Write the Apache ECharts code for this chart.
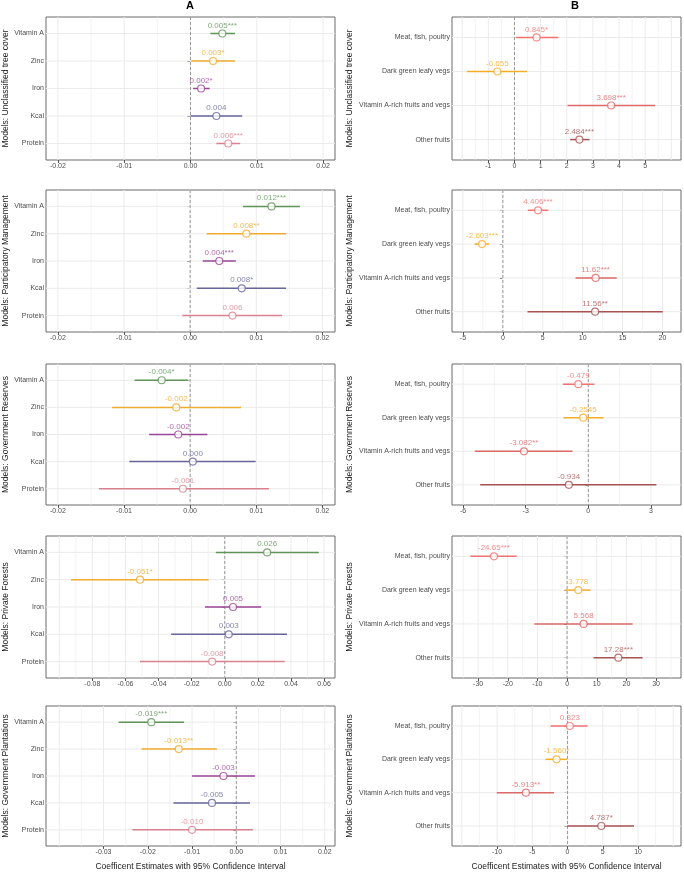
<!DOCTYPE html>
<html lang="en">
<head>
    <meta charset="UTF-8">
    <title>Coefficient plots</title>
    <script src="https://cdn.jsdelivr.net/npm/echarts@6/dist/echarts.min.js"></script>
</head>
<style>
    html, body { margin:0; padding:0; background:#fff; }
    #main { width:684px; height:872px; }
</style>
<body>
<div id="main"></div>
</body>
<script>
    // row labels / categories
    var models = ['Unclassified tree cover', 'Participatory Management', 'Government Reserves', 'Private Forests', 'Government Plantations'];
    var nutrients = ['Vitamin A', 'Zinc', 'Iron', 'Kcal', 'Protein'];
    var foods = ['Meat, fish, poultry', 'Dark green leafy vegs', 'Vitamin A-rich fruits and vegs', 'Other fruits'];

    // panel A: nutrient models (one row per model)
    var aEst = [
        [0.0048, 0.0034, 0.0016, 0.0039, 0.0057],
        [0.0123, 0.0085, 0.0044, 0.0078, 0.0064],
        [-0.0043, -0.0021, -0.0018, 0.0004, -0.0011],
        [0.0256, -0.0512, 0.0050, 0.0024, -0.0076],
        [-0.0192, -0.0130, -0.0029, -0.0055, -0.0100]
    ];
    var aLo = [
        [0.0030, 0.0001, 0.0004, 0.0000, 0.0039],
        [0.0080, 0.0025, 0.0019, 0.0010, -0.0012],
        [-0.0084, -0.0118, -0.0062, -0.0092, -0.0138],
        [-0.0054, -0.0930, -0.0120, -0.0324, -0.0512],
        [-0.0266, -0.0214, -0.0100, -0.0142, -0.0235]
    ];
    var aHi = [
        [0.0067, 0.0067, 0.0029, 0.0078, 0.0075],
        [0.0166, 0.0145, 0.0069, 0.0145, 0.0139],
        [-0.0003, 0.0077, 0.0026, 0.0099, 0.0119],
        [0.0568, -0.0098, 0.0220, 0.0376, 0.0362],
        [-0.0118, -0.0044, 0.0042, 0.0031, 0.0038]
    ];
    var aLab = [
        ['0.005***', '0.003*', '0.002*', '0.004', '0.006***'],
        ['0.012***', '0.008**', '0.004***', '0.008*', '0.006'],
        ['-0.004*', '-0.002', '-0.002', '0.000', '-0.001'],
        ['0.026', '-0.051*', '0.005', '0.003', '-0.008'],
        ['-0.019***', '-0.013**', '-0.003', '-0.005', '-0.010']
    ];

    // panel B: food group models
    var bEst = [
        [0.845, -0.655, 3.698, 2.484],
        [4.406, -2.603, 11.62, 11.56],
        [-0.479, -0.245, -3.082, -0.934],
        [-24.65, 3.778, 5.568, 17.28],
        [0.323, -1.560, -5.913, 4.787]
    ];
    var bLo = [
        [0.05, -1.82, 2.03, 2.13],
        [3.13, -3.55, 9.11, 3.09],
        [-1.22, -1.19, -5.44, -5.18],
        [-32.6, -0.8, -11.05, 8.93],
        [-2.42, -3.13, -10.05, -0.05]
    ];
    var bHi = [
        [1.68, 0.48, 5.38, 2.87],
        [5.69, -1.73, 14.27, 20.04],
        [0.29, 0.73, -0.76, 3.26],
        [-16.96, 7.9, 22.1, 25.45],
        [2.84, -0.09, -1.94, 9.43]
    ];
    var bLab = [
        ['0.845*', '-0.655', '3.698***', '2.484***'],
        ['4.406***', '-2.603***', '11.62***', '11.56**'],
        ['-0.479', '-0.2545', '-3.082**', '-0.934'],
        ['-24.65***', '3.778', '5.568', '17.28***'],
        ['0.323', '-1.560*', '-5.913**', '4.787*']
    ];

    // x axis limits and tick labels
    var aMin = [-0.0218, -0.0218, -0.0218, -0.108, -0.043];
    var aMax = [0.0218, 0.0219, 0.0219, 0.0666, 0.0223];
    var aTicks = [
        [-0.02, -0.01, 0, 0.01, 0.02],
        [-0.02, -0.01, 0, 0.01, 0.02],
        [-0.02, -0.01, 0, 0.01, 0.02],
        [-0.08, -0.06, -0.04, -0.02, 0, 0.02, 0.04, 0.06],
        [-0.03, -0.02, -0.01, 0, 0.01, 0.02]
    ];
    var bMin = [-2.39, -6.37, -6.53, -38.8, -16.4];
    var bMax = [6.37, 22.32, 4.44, 38.4, 16.1];
    var bTicks = [
        [-1, 0, 1, 2, 3, 4, 5],
        [-5, 0, 5, 10, 15, 20],
        [-6, -3, 0, 3],
        [-30, -20, -10, 0, 10, 20, 30],
        [-10, -5, 0, 5, 10]
    ];

    var aCol = ['#5f9357', '#f0ab30', '#9a4596', '#66669a', '#d9828f'];
    var bCol = ['#f27272', '#f5ad28', '#de6767', '#a85252'];

    var font = "'Liberation Sans', Arial, sans-serif";
    var tops = [17, 190, 364, 536, 706];
    var hts = [143, 142, 141, 142, 144];

    var grids = [], xAxes = [], yAxes = [], series = [];

    function vLine(params, api) {
        var cs = params.coordSys;
        var x = api.coord([api.value(0), 1])[0];
        return {type:'line', shape:{x1:x, y1:cs.y, x2:x, y2:cs.y + cs.height},
            style:{stroke:'#ebebeb', lineWidth: api.value(2) ? 1 : 0.6}};
    }
    function hLine(params, api) {
        var cs = params.coordSys;
        var y = api.coord([0, api.value(1)])[1];
        return {type:'line', shape:{x1:cs.x, y1:y, x2:cs.x + cs.width, y2:y},
            style:{stroke:'#ebebeb', lineWidth:1}};
    }
    function zeroLine(params, api) {
        var cs = params.coordSys;
        var x = api.coord([0, 1])[0];
        return {type:'line', shape:{x1:x, y1:cs.y, x2:x, y2:cs.y + cs.height},
            style:{stroke:'#999', lineWidth:1, lineDash:[3, 2]}};
    }
    function errBar(params, api) {
        var p1 = api.coord([api.value(0), api.value(2)]);
        var p2 = api.coord([api.value(1), api.value(2)]);
        return {type:'line', shape:{x1:p1[0], y1:p1[1], x2:p2[0], y2:p2[1]},
            style:{stroke:api.visual('color'), lineWidth:1.5}};
    }

    function addPanel(idx, left, width, row, names, est, lo, hi, lab, cols, xmin, xmax, ticks, decimals, nameGap) {
        grids.push({left:left, top:tops[row], width:width, height:hts[row],
            show:true, borderColor:'#6b6b6b', borderWidth:1, backgroundColor:'#fff'});
        var n = names.length;
        var cats = [];
        for (var i = 1; i <= n; i++) cats.push(i);
        var isBottom = row === 4;
        xAxes.push({
            gridIndex:idx, type:'value', min:xmin, max:xmax,
            splitLine:{show:false}, axisLine:{show:false},
            axisTick:{customValues:ticks, length:3, lineStyle:{color:'#555'}},
            axisLabel:{customValues:ticks, fontSize:7, color:'#4d4d4d', fontFamily:font, margin:3,
                formatter:function (v) { return Number(v).toFixed(decimals); }},
            name: isBottom ? 'Coefficent Estimates with 95% Confidence Interval' : '',
            nameLocation:'middle', nameGap:16,
            nameTextStyle:{fontSize:8.5, color:'#222', fontFamily:font}
        });
        yAxes.push({
            gridIndex:idx, type:'value', min:0.4, max:n + 0.6, inverse:true,
            splitLine:{show:false}, axisLine:{show:false},
            axisTick:{customValues:cats, length:3, lineStyle:{color:'#555'}},
            axisLabel:{customValues:cats, fontSize:7, color:'#4d4d4d', fontFamily:font, margin:2,
                formatter:function (v) { return names[Math.round(v) - 1]; }},
            name:'Models: ' + models[row], nameLocation:'middle', nameRotate:90, nameGap:nameGap,
            nameTextStyle:{fontSize:8.5, color:'#222', fontFamily:font}
        });

        // grid lines: major at ticks, minor at half steps
        var step = ticks[1] - ticks[0];
        var half = step / 2;
        var vdata = [];
        for (var k = Math.ceil(xmin / half - 1e-9); k <= Math.floor(xmax / half + 1e-9); k++) {
            vdata.push([k * half, 1, k % 2 === 0 ? 1 : 0]);
        }
        var hdata = cats.map(function (c) { return [0, c]; });
        series.push({type:'custom', xAxisIndex:idx, yAxisIndex:idx, silent:true, z:1, renderItem:vLine, data:vdata});
        series.push({type:'custom', xAxisIndex:idx, yAxisIndex:idx, silent:true, z:1, renderItem:hLine, data:hdata});
        series.push({type:'custom', xAxisIndex:idx, yAxisIndex:idx, silent:true, z:2, renderItem:zeroLine, data:[[0, 1]]});

        var bars = [], pts = [];
        for (var j = 0; j < n; j++) {
            bars.push({value:[lo[j], hi[j], j + 1], itemStyle:{color:cols[j]}});
            pts.push({name:lab[j], value:[est[j], j + 1],
                itemStyle:{borderColor:cols[j]}, label:{color:cols[j]}});
        }
        series.push({type:'custom', xAxisIndex:idx, yAxisIndex:idx, silent:true, z:3,
            renderItem:errBar, encode:{x:[0, 1], y:2}, data:bars});
        series.push({type:'scatter', xAxisIndex:idx, yAxisIndex:idx, silent:true, z:4,
            symbol:'circle', symbolSize:7,
            itemStyle:{color:'#fff', borderWidth:1.2},
            label:{show:true, position:'top', distance:0, formatter:'{b}', fontSize:8, fontFamily:font},
            data:pts});
    }

    var p = 0;
    for (var r = 0; r < 5; r++) {
        addPanel(p++, 45, 290, r, nutrients, aEst[r], aLo[r], aHi[r], aLab[r], aCol, aMin[r], aMax[r], aTicks[r], 2, 36);
        addPanel(p++, 452, 229, r, foods, bEst[r], bLo[r], bHi[r], bLab[r], bCol, bMin[r], bMax[r], bTicks[r], 0, 98);
    }

    var myChart = echarts.init(document.getElementById('main'), null, {renderer:'canvas'});
    myChart.setOption({
        animation:false,
        backgroundColor:'#fff',
        graphic:[
            {type:'text', x:190, y:6, style:{text:'A', textAlign:'center', textVerticalAlign:'middle', font:'bold 11px ' + font, fill:'#000'}},
            {type:'text', x:575, y:6, style:{text:'B', textAlign:'center', textVerticalAlign:'middle', font:'bold 11px ' + font, fill:'#000'}}
        ],
        grid:grids,
        xAxis:xAxes,
        yAxis:yAxes,
        series:series
    });
</script>
</html>
